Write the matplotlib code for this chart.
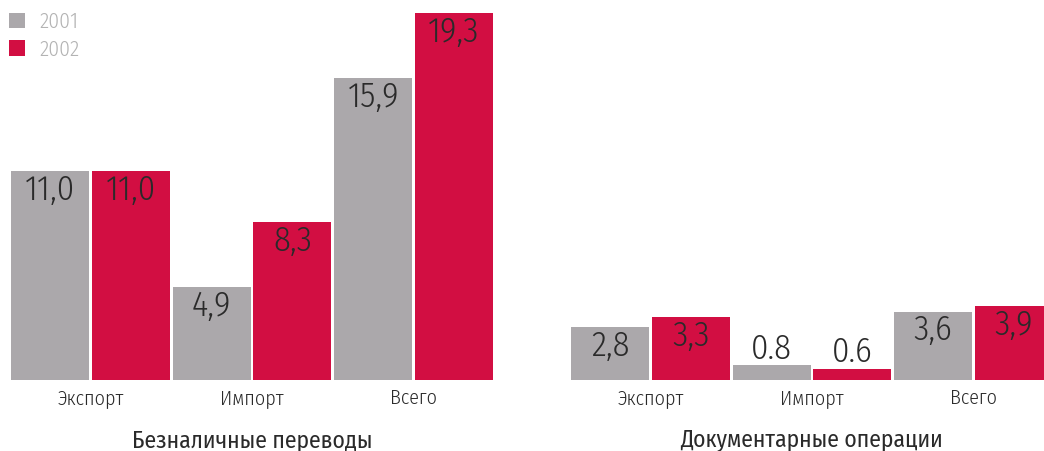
import numpy as np
import matplotlib
matplotlib.use("Agg")
import matplotlib.pyplot as plt

plt.rcParams["font.family"] = ["Fira Sans Condensed", "DejaVu Sans"]
plt.rcParams["font.weight"] = 300

# data
years = ["2001", "2002"]
categories = ["Экспорт", "Импорт", "Всего"]
transfers_2001 = [11.0, 4.9, 15.9]
transfers_2002 = [11.0, 8.3, 19.3]
transfers_labels_2001 = ["11,0", "4,9", "15,9"]
transfers_labels_2002 = ["11,0", "8,3", "19,3"]
documentary_2001 = [2.8, 0.8, 3.6]
documentary_2002 = [3.3, 0.6, 3.9]
documentary_labels_2001 = ["2,8", "0.8", "3,6"]
documentary_labels_2002 = ["3,3", "0.6", "3,9"]
panel_titles = ["Безналичные переводы", "Документарные операции"]

GRAY, RED, INK = "#aba8ab", "#d20e42", "#2a2a2a"
W, H = 1044, 451
fig = plt.figure(figsize=(W / 100, H / 100), dpi=100)

panels = [
    (transfers_2001, transfers_2002, transfers_labels_2001, transfers_labels_2002, 11),
    (documentary_2001, documentary_2002, documentary_labels_2001, documentary_labels_2002, 571),
]
bw = 0.965
handles = None
for (v1, v2, l1, l2, left), title in zip(panels, panel_titles):
    ax = fig.add_axes([left / W, 71 / H, 482 / W, 370.5 / H])
    n = len(categories)
    x1 = np.arange(n) * 2
    x2 = x1 + 1
    b1 = ax.bar(x1, v1, width=bw, color=GRAY, label=years[0])
    b2 = ax.bar(x2, v2, width=bw, color=RED, label=years[1])
    handles = [b1, b2]
    for xs, vals, labs in ((x1, v1, l1), (x2, v2, l2)):
        for x, v, s in zip(xs, vals, labs):
            # tiny bars carry their label on top, the rest inside
            small = v < 1.5
            ax.annotate(s, (x, v), xytext=(0, -0.5 if small else -1.5),
                        textcoords="offset points", ha="center",
                        va="bottom" if small else "top", fontsize=25, color=INK)
    ax.set_xlim(-bw / 2, 2 * n - 1 + bw / 2)
    ax.set_ylim(0, 19.5)
    ax.set_xticks(x1 + 0.5)
    ax.set_xticklabels(categories, fontsize=14.5, color=INK)
    ax.tick_params(axis="x", length=0, pad=6)
    ax.set_yticks([])
    for sp in ax.spines.values():
        sp.set_visible(False)
    ax.set_xlabel(title, fontsize=17, color=INK, labelpad=15)

fig.legend(handles, years, loc="upper left", bbox_to_anchor=(9 / W, 1 - 11 / H),
           frameon=False, fontsize=15.5, labelcolor="#b3b3b3",
           handlelength=0.72, handleheight=0.72, handletextpad=0.7,
           labelspacing=0.3, borderpad=0, borderaxespad=0)

fig.savefig("out.png", dpi=100)
